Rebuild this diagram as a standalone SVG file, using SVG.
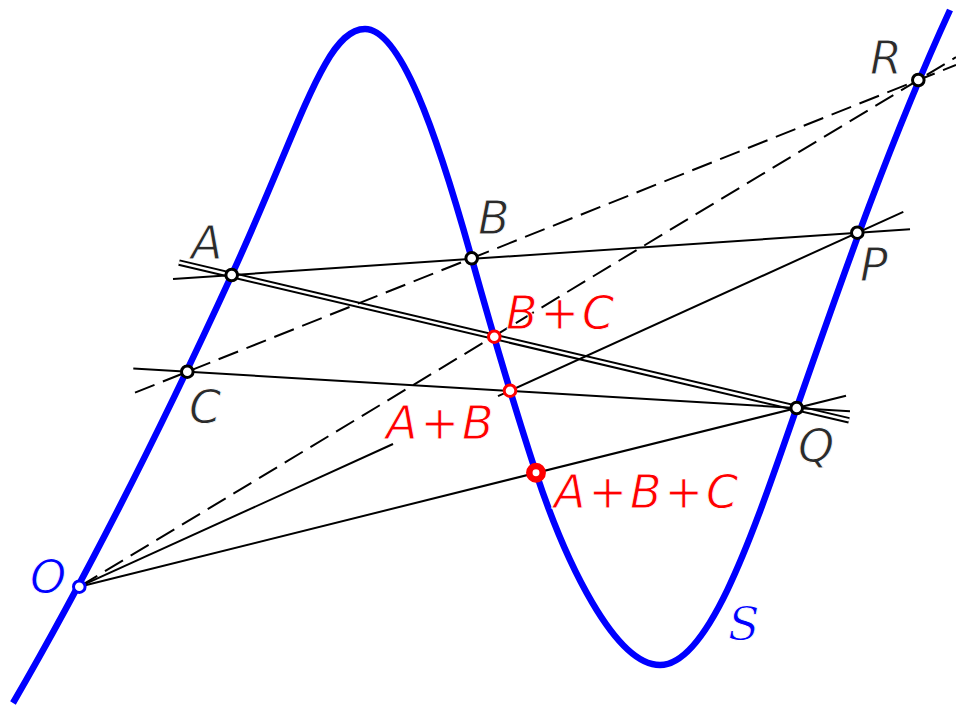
<svg xmlns="http://www.w3.org/2000/svg" width="956" height="706" viewBox="0 0 956 706">
<style>
.thin{stroke:#000;stroke-width:2;fill:none}
.dash{stroke:#000;stroke-width:2;fill:none;stroke-dasharray:21 9}
.dblo{stroke:#000;stroke-width:6.5;fill:none}
.dbli{stroke:#fff;stroke-width:2.6;fill:none}
.curve{stroke:#0000ff;stroke-width:6.5;fill:none}
.pt{fill:#fff;stroke:#000;stroke-width:3}
.rpt{fill:#fff;stroke:#ff0000;stroke-width:3}
.bpt{fill:#fff;stroke:#0000ff;stroke-width:3}
.lbl{font-family:"DejaVu Sans","Liberation Sans",sans-serif;font-style:oblique;font-size:46px;fill:#2b2b2b;stroke:#fff;stroke-width:0.9}
.red{fill:#ff0000;letter-spacing:3px}
.blue{fill:#0000ff}
</style>
<rect width="956" height="706" fill="#fff"/>
<g id="curve-S">
<path class="curve" d="M13 703 C96 560 165.9 418 231.7 275 C300.7 125 325 29 365 29 C400 29 435.3 128.3 471.7 258.3 C491.3 328.3 512.9 402.7 536 472.7 C565.7 562.7 615 665 660 665 C710 665 754.7 528 796.7 408 C842.2 278 890.2 140 950 10"/>
<text class="lbl blue" x="728" y="640" style="font-family:'DejaVu Serif',serif;font-style:italic">S</text>
</g>
<g id="connectors">
<line class="dblo" x1="179" y1="262.6" x2="849" y2="420.3"/>
<line class="dbli" x1="179" y1="262.6" x2="849" y2="420.3"/>
<line class="thin" x1="173" y1="279" x2="910" y2="229.3"/>
<line class="thin" x1="133.3" y1="368.5" x2="850" y2="411.2"/>
<line class="thin" x1="79.3" y1="586.7" x2="393" y2="444"/>
<line class="thin" x1="498" y1="396.2" x2="903.3" y2="211.8"/>
<line class="thin" x1="79.3" y1="586.7" x2="846" y2="395.7"/>
<line class="dash" x1="135" y1="392.6" x2="956" y2="65"/>
<line class="dash" x1="79.3" y1="586.7" x2="956" y2="57.2"/>
</g>
<g id="O"><circle class="bpt" cx="79.3" cy="586.7" r="5.8"/><text class="lbl blue" x="30" y="593">O</text></g>
<g id="A"><circle class="pt" cx="231.7" cy="275" r="5.8"/><text class="lbl" x="191" y="259">A</text></g>
<g id="B"><circle class="pt" cx="471.7" cy="258.3" r="5.8"/><text class="lbl" x="478" y="234">B</text></g>
<g id="C"><circle class="pt" cx="187.3" cy="371.7" r="5.8"/><text class="lbl" x="189" y="423">C</text></g>
<g id="P"><circle class="pt" cx="857.3" cy="232.7" r="5.8"/><text class="lbl" x="860" y="281">P</text></g>
<g id="Q"><circle class="pt" cx="796.7" cy="408" r="5.8"/><text class="lbl" x="798" y="462">Q</text></g>
<g id="R"><circle class="pt" cx="918.3" cy="80" r="5.8"/><text class="lbl" x="870" y="74">R</text></g>
<g id="BplusC"><circle class="rpt" cx="494.3" cy="336.7" r="5.8"/><text class="lbl red" x="506" y="329">B+C</text></g>
<g id="AplusB"><circle class="rpt" cx="510" cy="390.7" r="5.8"/><text class="lbl red" x="386" y="439">A+B</text></g>
<g id="AplusBplusC"><circle cx="536" cy="472.7" r="6.7" fill="#fff" stroke="#ff0000" stroke-width="6.5"/><text class="lbl red" x="554" y="508">A+B+C</text></g>
</svg>
